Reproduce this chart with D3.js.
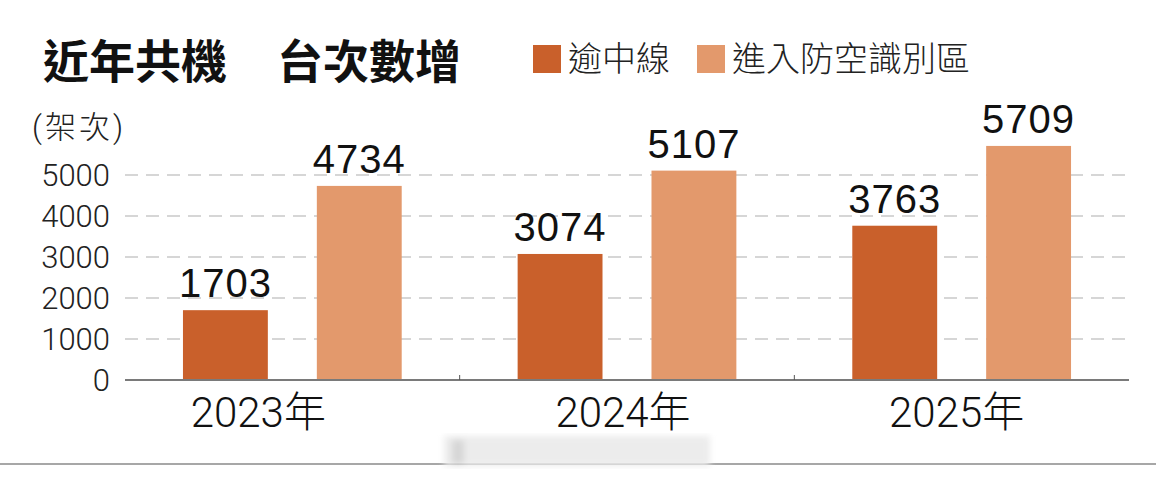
<!DOCTYPE html>
<html>
<head>
<meta charset="utf-8">
<script src="https://cdn.jsdelivr.net/npm/d3@7"></script>
<style>
  html, body { margin: 0; padding: 0; background: #fff; }
  svg { display: block; }
</style>
</head>
<body>
<svg id="chart" width="1156" height="480"></svg>
<script>
// ---- data ----
const categories = ["2023年", "2024年", "2025年"];
const seriesNames = ["逾中線", "進入防空識別區"];
const crossMedianLine = [1703, 3074, 3763];
const enterADIZ = [4734, 5107, 5709];
const yTickValues = [0, 1000, 2000, 3000, 4000, 5000];
const titleParts = ["近年共機", "台次數增"];
const unitLabel = "(架次)";

// ---- layout / style ----
const W = 1156, H = 480;
const plot = { left: 125, right: 1129, top: 134, bottom: 380 };
const colors = ["#C9602B", "#E3996C"];
const latinLight = "Roboto, 'Liberation Sans', 'Noto Sans CJK TC', sans-serif";
const cjk = "'Noto Sans CJK TC', 'Noto Sans CJK SC', sans-serif";
const labelNudge = { "2023年": -34, "2024年": -4, "2025年": -5 };

const svg = d3.select("#chart");
svg.append("rect").attr("width", W).attr("height", H).attr("fill", "#fff");

const rows = categories.map((c, i) => ({ cat: c, values: [crossMedianLine[i], enterADIZ[i]] }));

const x0 = d3.scaleBand().domain(categories).range([plot.left, plot.right]).paddingInner(0).paddingOuter(0);
const x1 = d3.scaleBand().domain(d3.range(seriesNames.length)).range([0, x0.bandwidth()])
  .paddingInner(0.366).paddingOuter(0.433);
const y = d3.scaleLinear().domain([0, 6000]).range([plot.bottom, plot.top]);

// gridlines
svg.append("g")
  .selectAll("line")
  .data(yTickValues.filter(v => v > 0))
  .join("line")
  .attr("x1", plot.left).attr("x2", plot.right)
  .attr("y1", d => y(d)).attr("y2", d => y(d))
  .attr("stroke", "#c9c9c9").attr("stroke-width", 1.5)
  .attr("stroke-dasharray", "13,8");

// y tick labels
const yAxis = d3.axisLeft(y).tickValues(yTickValues).tickSize(0).tickPadding(0).tickFormat(d3.format("d"));
const gy = svg.append("g").attr("transform", `translate(110,0)`).call(yAxis);
gy.select(".domain").remove();
gy.selectAll("text")
  .attr("font-family", latinLight).attr("font-weight", 300)
  .attr("font-size", 31).attr("fill", "#222").attr("dy", "0.35em");

// unit label
svg.append("text").attr("x", 32).attr("y", 138)
  .attr("font-family", latinLight).attr("font-weight", 300)
  .attr("font-size", 31).attr("letter-spacing", 3).attr("fill", "#222").text(unitLabel);

// bars
const groups = svg.append("g").selectAll("g").data(rows).join("g")
  .attr("transform", d => `translate(${x0(d.cat)},0)`);
groups.selectAll("rect")
  .data(d => d.values.map((v, i) => ({ v, i })))
  .join("rect")
  .attr("x", d => x1(d.i)).attr("width", x1.bandwidth())
  .attr("y", d => y(d.v)).attr("height", d => y(0) - y(d.v))
  .attr("fill", d => colors[d.i]);
groups.selectAll("text.val")
  .data(d => d.values.map((v, i) => ({ v, i })))
  .join("text").attr("class", "val")
  .attr("x", d => x1(d.i) + x1.bandwidth() / 2)
  .attr("y", d => y(d.v) - 13)
  .attr("text-anchor", "middle")
  .attr("font-family", "'Liberation Sans', Arial, sans-serif")
  .attr("font-size", 40).attr("fill", "#111")
  .attr("letter-spacing", 1)
  .text(d => d.v);

// x axis
const gx = svg.append("g").attr("transform", `translate(0,${plot.bottom})`);
gx.append("line").attr("x1", plot.left).attr("x2", plot.right)
  .attr("stroke", "#7a7a7a").attr("stroke-width", 2);
gx.selectAll("line.tick").data(categories.slice(1)).join("line").attr("class", "tick")
  .attr("x1", d => x0(d)).attr("x2", d => x0(d)).attr("y1", 0).attr("y2", -5)
  .attr("stroke", "#555").attr("stroke-width", 1);
gx.selectAll("text").data(categories).join("text")
  .attr("x", d => x0(d) + x0.bandwidth() / 2 + labelNudge[d])
  .attr("y", 47)
  .attr("text-anchor", "middle")
  .attr("font-family", latinLight).attr("font-weight", 300)
  .attr("font-size", 42).attr("fill", "#111")
  .text(d => d);

// title
svg.append("text").attr("x", 43).attr("y", 78)
  .attr("font-family", cjk).attr("font-weight", 700).attr("font-size", 46).attr("fill", "#111")
  .text(titleParts[0]);
svg.append("text").attr("x", 277).attr("y", 78)
  .attr("font-family", cjk).attr("font-weight", 700).attr("font-size", 46).attr("fill", "#111")
  .text(titleParts[1]);

// legend
const legendX = [533, 697];
const leg = svg.append("g").selectAll("g").data(seriesNames).join("g")
  .attr("transform", (d, i) => `translate(${legendX[i]},45)`);
leg.append("rect").attr("width", 28).attr("height", 28).attr("fill", (d, i) => colors[i]);
leg.append("text").attr("x", 35).attr("y", 26)
  .attr("font-family", cjk).attr("font-weight", 300).attr("font-size", 34).attr("fill", "#222")
  .text(d => d);

// bottom rule and blurred watermark
svg.append("line").attr("x1", 0).attr("x2", W).attr("y1", 464).attr("y2", 464)
  .attr("stroke", "#8a8a8a").attr("stroke-width", 1.5);
const defs = svg.append("defs");
defs.append("filter").attr("id", "blur").append("feGaussianBlur").attr("stdDeviation", 3);
const wm = svg.append("g").attr("filter", "url(#blur)");
wm.append("rect").attr("x", 444).attr("y", 436).attr("width", 266).attr("height", 30)
  .attr("fill", "#ececec");
wm.append("rect").attr("x", 452).attr("y", 440).attr("width", 12).attr("height", 24)
  .attr("fill", "#d6d6d6");
</script>
</body>
</html>
